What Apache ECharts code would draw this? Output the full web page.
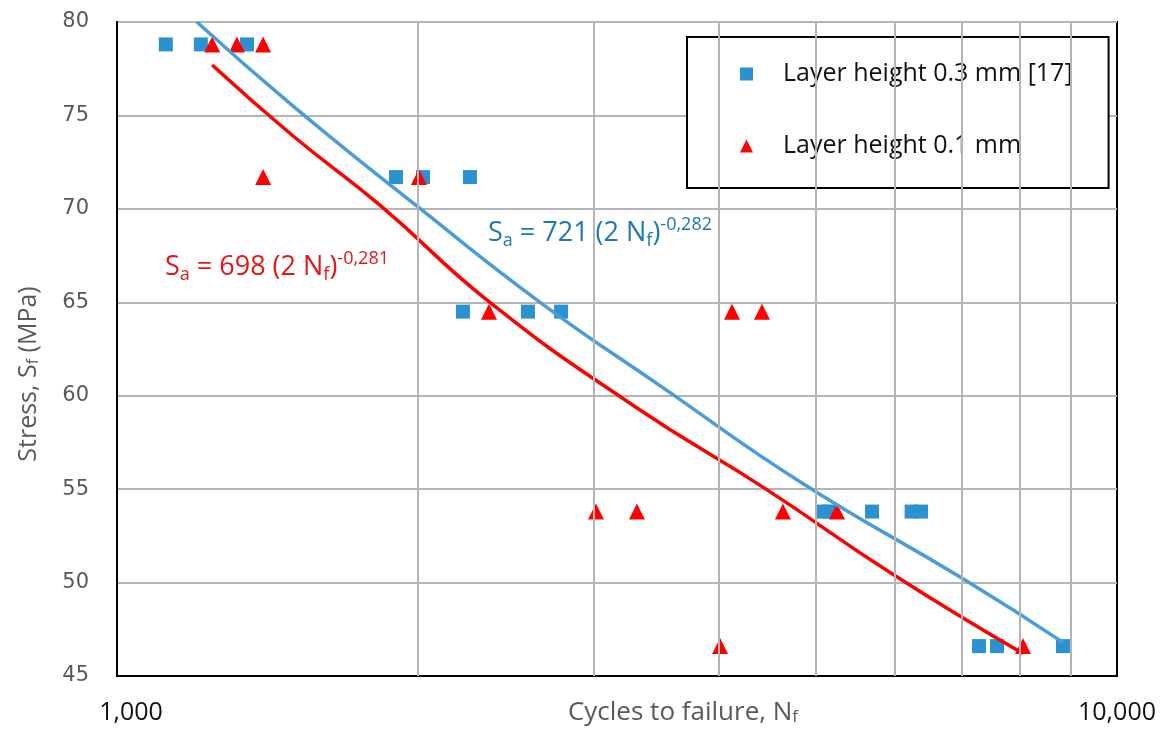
<!DOCTYPE html>
<html>
<head>
<meta charset="utf-8">
<title>S-N curve</title>
<script src="https://cdn.jsdelivr.net/npm/echarts@6/dist/echarts.min.js"></script>
<style>
  html, body { margin: 0; padding: 0; background: #fff; }
  #chart { width: 1163px; height: 731px; }
</style>
</head>
<body>
<div id="chart"></div>
<script>
// measured points, layer height 0.3 mm [17]
const blueCycles = [1119, 1213, 1349, 1901, 2023, 2254, 2218, 2576, 2780, 5070, 5152, 5689, 6232, 6368, 7278, 7586, 8830];
const blueStress = [78.8, 78.8, 78.8, 71.7, 71.7, 71.7, 64.5, 64.5, 64.5, 53.8, 53.8, 53.8, 53.8, 53.8, 46.6, 46.6, 46.6];

// measured points, layer height 0.1 mm
const redCycles = [1245, 1318, 1400, 1400, 2004, 2355, 4121, 4416, 3013, 3311, 4634, 5248, 4009, 8054];
const redStress = [78.8, 78.8, 78.8, 71.7, 71.7, 64.5, 64.5, 64.5, 53.8, 53.8, 53.8, 53.8, 46.6, 46.6];

// trend lines
const blueFitCycles = [1202, 1500, 2000, 2649, 3500, 4850, 7015, 8830];
const blueFitStress = [80.0, 75.5, 70.1, 65.0, 60.5, 55.3, 50.2, 46.8];
const redFitCycles = [1245, 1500, 1832, 2360, 3300, 4457, 5984, 8054];
const redFitStress = [77.7, 73.9, 70.2, 65.0, 59.4, 55.0, 50.4, 46.2];

// vertical grid lines between the decades
const minorCycles = [2000, 3000, 4000, 5000, 6000, 7000, 8000, 9000];

const blueName = 'Layer height 0.3 mm [17]';
const redName = 'Layer height 0.1 mm';
const blueMark = '#2b92d2';
const blueLine = '#4a9dd8';
const red = '#ff0000';
const font = 'Open Sans';

function pairs(xs, ys) {
    return xs.map(function(x, i) { return [x, ys[i]]; });
}

function equation(color) {
    return {
        m: { fontSize: 27, fontFamily: font, fill: color, lineHeight: 34 },
        sub: { fontSize: 18, fontFamily: font, fill: color, verticalAlign: 'bottom', lineHeight: 16 },
        sup: { fontSize: 18, fontFamily: font, fill: color, verticalAlign: 'top', lineHeight: 16 }
    };
}

const chart = echarts.init(document.getElementById('chart'));
chart.setOption({
    animation: false,
    grid: {
        left: 117, right: 46, top: 22, bottom: 55,
        outerBoundsMode: 'none',
        show: true, borderColor: '#000', borderWidth: 2
    },
    legend: {
        data: [{ name: blueName, icon: 'rect' }, { name: redName, icon: 'triangle' }],
        orient: 'vertical',
        left: 687, top: 37,
        padding: [24, 36, 29, 53],
        itemWidth: 13, itemHeight: 13, itemGap: 46,
        textStyle: { fontSize: 25, lineHeight: 26, fontFamily: font, color: '#111', padding: [0, 0, 0, 25] },
        borderColor: '#000', borderWidth: 2, backgroundColor: '#fff'
    },
    xAxis: {
        type: 'log', logBase: 10, min: 1000, max: 10000,
        name: 'Cycles to failure, N{sub|f}',
        nameLocation: 'middle', nameGap: 24, nameMoveOverlap: false,
        nameTextStyle: {
            fontSize: 26, fontFamily: font, color: '#595959', padding: [0, 0, 0, 132],
            rich: { sub: { fontSize: 17, fontFamily: font, color: '#595959', verticalAlign: 'bottom', lineHeight: 16 } }
        },
        axisLine: { lineStyle: { color: '#000', width: 2 } },
        axisTick: { show: false },
        splitLine: { show: false },
        axisLabel: {
            margin: 24, fontSize: 25, fontFamily: font, color: '#111',
            formatter: function(v) {
                const s = v.toLocaleString('en-US');
                return v === 1000 ? '{lo|' + s + '}' : s;
            },
            rich: { lo: { fontSize: 25, fontFamily: font, color: '#111', padding: [0, 0, 0, 28] } }
        }
    },
    yAxis: {
        type: 'value', min: 45, max: 80, interval: 5,
        name: 'Stress, S{sub|f} (MPa)',
        nameLocation: 'middle', nameGap: 76,
        nameTextStyle: {
            fontSize: 25, fontFamily: font, color: '#595959', padding: [0, 50, 0, 0],
            rich: { sub: { fontSize: 16, fontFamily: font, color: '#595959', verticalAlign: 'bottom', lineHeight: 14 } }
        },
        axisLine: { show: true, lineStyle: { color: '#000', width: 2 } },
        axisTick: { show: false },
        splitLine: { lineStyle: { color: '#b4b4b4', width: 2 } },
        axisLabel: { margin: 28, fontSize: 21, fontFamily: 'DejaVu Sans', color: '#595959' }
    },
    graphic: [
        {
            type: 'text', left: 488, top: 216, z: 10,
            style: { text: '{m|S}{sub|a}{m| = 721 (2 N}{sub|f}{m|)}{sup|-0,282}', rich: equation('#1c79b4') }
        },
        {
            type: 'text', left: 165, top: 250, z: 10,
            style: { text: '{m|S}{sub|a}{m| = 698 (2 N}{sub|f}{m|)}{sup|-0,281}', rich: equation('#e8141a') }
        }
    ],
    series: [
        {
            name: 'grid', type: 'line', data: [], z: 1,
            markLine: {
                silent: true, symbol: 'none', label: { show: false },
                lineStyle: { color: '#b4b4b4', width: 2, type: 'solid' },
                data: minorCycles.map(function(c) { return { xAxis: c }; })
            }
        },
        {
            name: blueName, type: 'scatter', symbol: 'rect', symbolSize: 14, z: 2,
            itemStyle: { color: blueMark, opacity: 1 },
            data: pairs(blueCycles, blueStress)
        },
        {
            name: redName, type: 'scatter', symbol: 'triangle', symbolSize: 16, z: 2,
            itemStyle: { color: red, opacity: 1 },
            data: pairs(redCycles, redStress)
        },
        {
            name: 'blue fit', type: 'line', smooth: true, showSymbol: false, z: 3,
            lineStyle: { color: blueLine, width: 3.5 },
            data: pairs(blueFitCycles, blueFitStress)
        },
        {
            name: 'red fit', type: 'line', smooth: true, showSymbol: false, z: 3,
            lineStyle: { color: red, width: 3.5 },
            data: pairs(redFitCycles, redFitStress)
        }
    ]
});
</script>
</body>
</html>
